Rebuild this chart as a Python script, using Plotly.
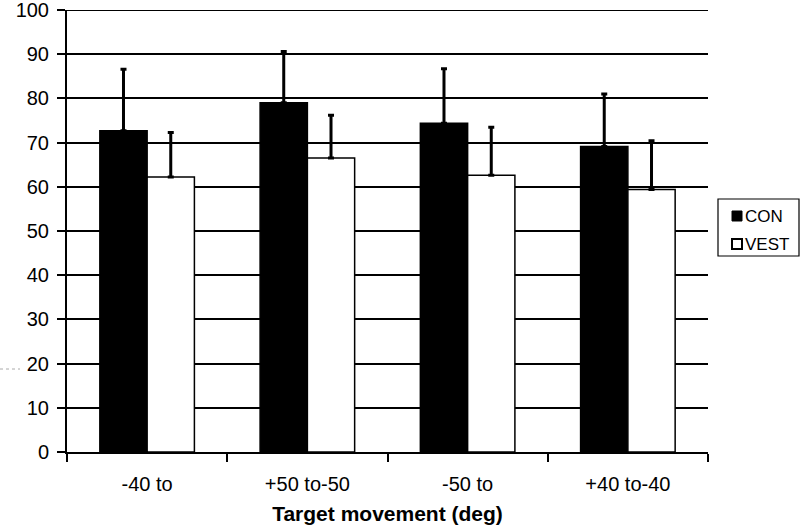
import plotly.graph_objects as go

categories = ["-40 to", "+50 to-50", "-50 to", "+40 to-40"]
con_values = [72.7, 79.0, 74.4, 69.1]
con_err = [13.9, 11.6, 12.3, 11.9]
vest_values = [62.2, 66.5, 62.6, 59.4]
vest_err = [10.1, 9.7, 10.9, 11.0]
series_names = ["CON", "VEST"]

font_family = "Liberation Sans, Arial, sans-serif"

W, H = 800, 526
L, R, T, B = 67, 92, 10, 74
PW, PH = W - L - R, H - T - B

def px(x):
    return (x - L) / PW

def py(y):
    return (H - B - y) / PH

fig = go.Figure()
fig.add_trace(go.Bar(
    x=categories, y=con_values, name=series_names[0],
    marker=dict(color="black", line=dict(color="black", width=1.5)),
    error_y=dict(type="data", symmetric=False, array=con_err, arrayminus=[0]*4,
                 color="black", thickness=3, width=3),
))
fig.add_trace(go.Bar(
    x=categories, y=vest_values, name=series_names[1],
    marker=dict(color="white", line=dict(color="black", width=1.5)),
    error_y=dict(type="data", symmetric=False, array=vest_err, arrayminus=[0]*4,
                 color="black", thickness=3, width=3),
))

fig.update_layout(
    width=W, height=H,
    margin=dict(l=L, r=R, t=T, b=B, pad=0),
    plot_bgcolor="white", paper_bgcolor="white",
    barmode="group", bargap=0.41, bargroupgap=0,
    font=dict(family=font_family, size=20, color="black"),
    showlegend=False,
    xaxis=dict(
        title=dict(text="<b>Target movement (deg)</b>", font=dict(size=21), standoff=12),
        showline=True, linecolor="black", linewidth=2,
        ticks="outside", tickson="boundaries", ticklen=8, tickwidth=2, tickcolor="black",
        showgrid=False, tickfont=dict(size=20), automargin=False,
        ticklabelstandoff=13,
    ),
    yaxis=dict(
        range=[0, 100], dtick=10,
        showline=True, linecolor="black", linewidth=2,
        ticks="outside", ticklen=8, tickwidth=2, tickcolor="black",
        showgrid=True, gridcolor="black", gridwidth=2,
        zeroline=False, tickfont=dict(size=20), automargin=False,
        ticklabeloverflow="allow", ticklabelstandoff=4,
    ),
)

# top gridline at 100
fig.add_shape(type="line", xref="paper", yref="y", x0=0, x1=1, y0=100, y1=100,
              line=dict(color="black", width=2), layer="below")

# legend box
fig.add_shape(type="rect", xref="paper", yref="paper",
              x0=px(718), x1=px(799), y0=py(256), y1=py(199),
              line=dict(color="black", width=1.2), fillcolor="white")
fig.add_shape(type="rect", xref="paper", yref="paper",
              x0=px(732), x1=px(742), y0=py(221), y1=py(211),
              line=dict(color="black", width=1), fillcolor="black")
fig.add_shape(type="rect", xref="paper", yref="paper",
              x0=px(732), x1=px(742), y0=py(249), y1=py(239),
              line=dict(color="black", width=2), fillcolor="white")
fig.add_annotation(xref="paper", yref="paper", x=px(743), y=py(216),
                   text=series_names[0], showarrow=False, xanchor="left", yanchor="middle",
                   font=dict(size=17))
fig.add_annotation(xref="paper", yref="paper", x=px(743), y=py(244),
                   text=series_names[1], showarrow=False, xanchor="left", yanchor="middle",
                   font=dict(size=17))

# faint artifact at left
fig.add_shape(type="line", xref="paper", yref="paper",
              x0=px(0), x1=px(20), y0=py(369), y1=py(369),
              line=dict(color="#aaaaaa", width=1, dash="dot"))

fig.write_html("out.html", config={"displayModeBar": False},
               post_script="document.body.style.margin='0px';")
